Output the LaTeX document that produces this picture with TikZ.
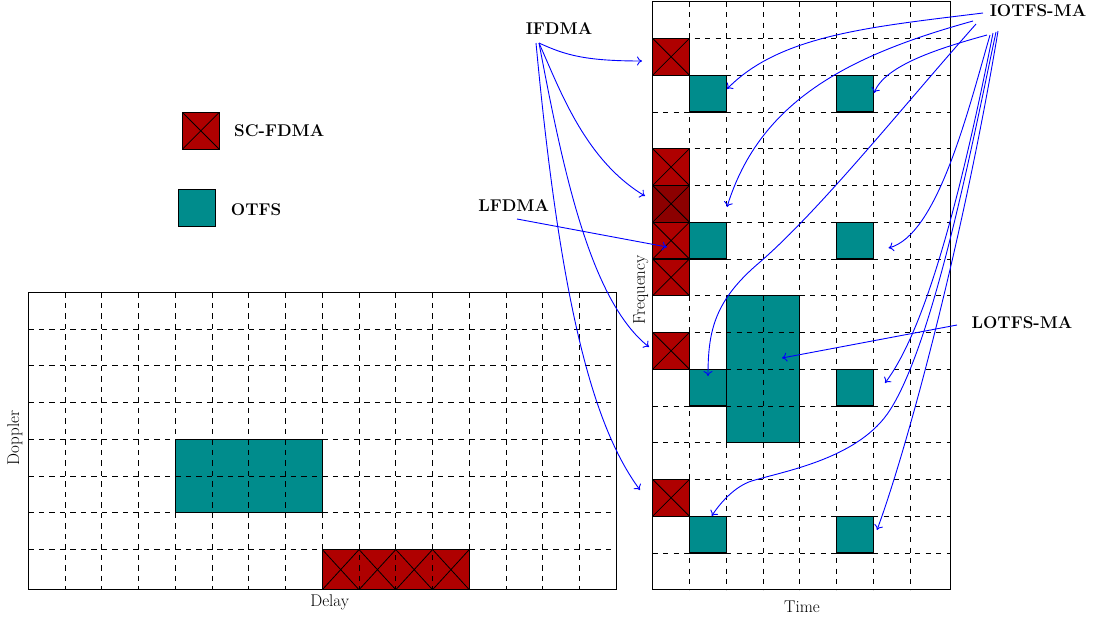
\documentclass[tikz,border=0pt]{standalone}
\usepackage{fontspec}
\usetikzlibrary{arrows.meta}
\definecolor{scred}{RGB}{175,0,0}
\definecolor{scdark}{RGB}{140,0,0}
\definecolor{otfsteal}{RGB}{0,140,140}
\begin{document}
\begin{tikzpicture}[x=1pt,y=-1pt,
  gridline/.style={line width=0.8pt, dash pattern=on 5.25pt off 5.25pt},
  frame/.style={line width=1.1pt},
  blockline/.style={line width=1.1pt},
  crossline/.style={line width=0.8pt},
  lbl/.style={font=\fontsize{17}{20}\selectfont\bfseries, inner sep=0pt},
  axis/.style={font=\fontsize{17}{20}\selectfont, inner sep=0pt},
  link/.style={blue, line width=0.9pt, -{To[length=5pt,width=9pt]}},
]
\useasboundingbox (0,0) rectangle (1099,619);

% grid geometry: delay-Doppler plane (left) and time-frequency plane (right)
\def\cw{36.75}
\def\LX{28.3}  \def\LY{292.3} \def\LR{616.3} \def\LB{589.7}
\def\RX{652.7} \def\RY{1.7}   \def\RR{950.3} \def\RB{589.7}

% ---------- fills ----------
\fill[otfsteal] (\LX+4*\cw,\LY+4*\cw) rectangle (\LX+8*\cw,\LY+6*\cw);
\fill[scred] (\LX+8*\cw,\LY+7*\cw) rectangle (\LX+12*\cw,\LB);

\foreach \r in {1,4,6,7,9,13}
  \fill[scred] (\RX,\RY+\r*\cw) rectangle ++(\cw,\cw);
\fill[scdark] (\RX,\RY+5*\cw) rectangle ++(\cw,\cw);
\foreach \r in {2,6,10,14}{
  \fill[otfsteal] (\RX+\cw,\RY+\r*\cw) rectangle ++(\cw,\cw);
  \fill[otfsteal] (\RX+5*\cw,\RY+\r*\cw) rectangle ++(\cw,\cw);
}
\fill[otfsteal] (\RX+2*\cw,\RY+8*\cw) rectangle (\RX+4*\cw,\RY+12*\cw);

% ---------- dashed grids ----------
\foreach \k in {1,...,15}
  \draw[gridline] (\LX+\k*\cw,\LY) -- (\LX+\k*\cw,\LB);
\foreach \k in {1,...,7}
  \draw[gridline] (\LX,\LY+\k*\cw) -- (\LR,\LY+\k*\cw);
\foreach \k in {1,...,7}
  \draw[gridline] (\RX+\k*\cw,\RY) -- (\RX+\k*\cw,\RB);
\foreach \k in {1,...,15}
  \draw[gridline] (\RX,\RY+\k*\cw) -- (\RR,\RY+\k*\cw);

% ---------- block outlines ----------
\draw[blockline] (\LX+4*\cw,\LY+4*\cw) rectangle (\LX+8*\cw,\LY+6*\cw);
\draw[blockline] (\LX+8*\cw,\LY+7*\cw) rectangle (\LX+12*\cw,\LB);
\foreach \k in {8,...,11}
  \draw[crossline] (\LX+\k*\cw,\LY+7*\cw) -- (\LX+\k*\cw+\cw,\LB)
                   (\LX+\k*\cw+\cw,\LY+7*\cw) -- (\LX+\k*\cw,\LB);
\foreach \r in {1,4,5,6,7,9,13}{
  \draw[blockline] (\RX,\RY+\r*\cw) rectangle ++(\cw,\cw);
  \draw[crossline] (\RX,\RY+\r*\cw) -- ++(\cw,\cw)
                   (\RX+\cw,\RY+\r*\cw) -- ++(-\cw,\cw);
}
\foreach \r in {2,6,10,14}{
  \draw[blockline] (\RX+\cw,\RY+\r*\cw) rectangle ++(\cw,\cw);
  \draw[blockline] (\RX+5*\cw,\RY+\r*\cw) rectangle ++(\cw,\cw);
}
\draw[blockline] (\RX+2*\cw,\RY+8*\cw) rectangle (\RX+4*\cw,\RY+12*\cw);

% ---------- frames ----------
\draw[frame] (\LX,\LY) rectangle (\LR,\LB);
\draw[frame] (\RX,\RY) rectangle (\RR,\RB);

% ---------- legend ----------
\filldraw[fill=scred, blockline] (182.3,112.3) rectangle (219.3,149.3);
\draw[crossline] (182.3,112.3) -- (219.3,149.3) (219.3,112.3) -- (182.3,149.3);
\filldraw[fill=otfsteal, blockline] (178.3,189.3) rectangle (215.7,226.3);
\node[lbl, anchor=west] (scfdma) at (234,131) {SC-FDMA};
\node[lbl, anchor=west] (otfs) at (230.7,209.5) {OTFS};

% ---------- axis labels ----------
\node[axis, rotate=90] (doppler) at (15,438) {Doppler};
\node[axis] (delay) at (329.7,602.5) {Delay};
\node[axis, rotate=90] (freq) at (640.8,290) {Frequency};
\node[axis] (time) at (802,606.7) {Time};

% ---------- scheme labels ----------
\node[lbl] (ifdma) at (559,29) {IFDMA};
\node[lbl] (lfdma) at (513.7,206) {LFDMA};
\node[lbl] (iotfs) at (1038,11) {IOTFS-MA};
\node[lbl] (lotfs) at (1022,323) {LOTFS-MA};

% ---------- arrow end points ----------
\coordinate (ifA) at (539,43);
\coordinate (ifB) at (536,43);
\coordinate (if1) at (642,61);
\coordinate (if5) at (645,196);
\coordinate (if9) at (649,347);
\coordinate (if13) at (640,490);
\coordinate (lfA) at (517,219);
\coordinate (lf1) at (667,247);
\coordinate (loA) at (957,325);
\coordinate (lo1) at (782,358);
\coordinate (ioA) at (983,13);
\coordinate (ioB) at (987,35);
\coordinate (ioC) at (973,21);
\coordinate (ioD) at (990,35);
\coordinate (ioE) at (976,24);
\coordinate (ioF) at (993,33);
\coordinate (ioG) at (996,32);
\coordinate (ioH) at (998,31);
\coordinate (ioa) at (727,89);
\coordinate (iob) at (874,93);
\coordinate (ioc) at (727,207);
\coordinate (iod) at (888.5,248);
\coordinate (ioe) at (708,376);
\coordinate (iof) at (885,383);
\coordinate (iog) at (711.7,516);
\coordinate (ioh) at (877,530);

% IFDMA: interleaved single-carrier chunks
\draw[link] (ifA) .. controls (565,55) and (585,61) .. (if1);
\draw[link] (ifA) .. controls (560,90) and (585,160) .. (if5);
\draw[link] (ifA) .. controls (563,170) and (590,300) .. (if9);
\draw[link] (ifB) .. controls (560,300) and (592,425) .. (if13);
% LFDMA: localized chunk
\draw[link] (lfA) -- (lf1);
% LOTFS-MA: localized OTFS block
\draw[link] (loA) -- (lo1);
% IOTFS-MA: interleaved OTFS cells
\draw[link] (ioA) .. controls (870,27) and (780,35) .. (ioa);
\draw[link] (ioB) .. controls (940,48) and (885,65) .. (iob);
\draw[link] (ioC) .. controls (850,55) and (760,100) .. (ioc);
\draw[link] (ioD) .. controls (967,115) and (937,235) .. (iod);
\draw[link] (ioE) .. controls (900,110) and (820,210) .. (760,262)
                  .. controls (715,300) and (708,330) .. (ioe);
\draw[link] (ioF) .. controls (960,200) and (925,330) .. (iof);
\draw[link] (ioG) .. controls (975,130) and (935,340) .. (890,410)
                  .. controls (860,457) and (790,470) .. (755,480)
                  .. controls (738,484) and (722,500) .. (iog);
\draw[link] (ioH) .. controls (965,230) and (910,440) .. (ioh);
\end{tikzpicture}
\end{document}
